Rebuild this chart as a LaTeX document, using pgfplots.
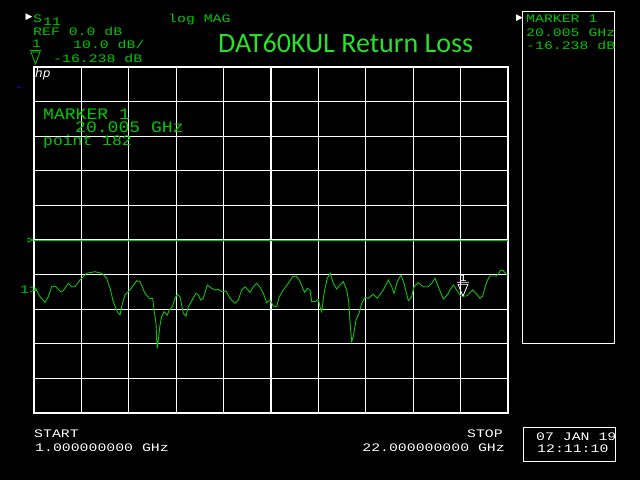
\documentclass[border=0pt]{standalone}
\usepackage{fontspec}
\usepackage{pgfplots}
\pgfplotsset{compat=1.18}
\setmainfont{Liberation Sans}
\newfontfamily\hpfont[FakeStretch=1.29]{Liberation Mono}
\newfontfamily\hpbig[FakeStretch=1.13]{Liberation Mono}
\newfontfamily\titlefont{Carlito}
\newfontfamily\symfont{DejaVu Sans}
\definecolor{hpgreen}{RGB}{0,200,0}
\definecolor{trace}{RGB}{15,195,15}
\definecolor{titlegreen}{RGB}{40,225,40}
\pgfdeclareplotmark{hpmark}{%
 \pgfpathmoveto{\pgfpoint{0pt}{0pt}}%
 \pgfpathlineto{\pgfpoint{-5pt}{12pt}}%
 \pgfpathlineto{\pgfpoint{5pt}{12pt}}%
 \pgfpathclose
 \pgfpathmoveto{\pgfpoint{-6pt}{14pt}}%
 \pgfpathlineto{\pgfpoint{6pt}{14pt}}%
 \pgfusepathqstroke}
\tikzset{hp/.style={anchor=base west, inner sep=0pt, font=\hpfont\fontsize{11.5}{11.5}\selectfont}}
\begin{document}
\begin{tikzpicture}[x=1pt,y=1pt]
\fill[black] (0,0) rectangle (640,480);
\useasboundingbox (0,0) rectangle (640,480);
\begin{axis}[at={(34pt,67pt)}, anchor=south west, scale only axis,
  width=474pt, height=346pt,
  xmin=1, xmax=22, ymin=-50, ymax=50,
  xtick={1,3.1,5.2,7.3,9.4,11.5,13.6,15.7,17.8,19.9,22},
  ytick={-50,-40,-30,-20,-10,0,10,20,30,40,50},
  xticklabels={}, yticklabels={},
  grid=major, major grid style={white, line width=1.1pt},
  axis line style={white, line width=1.1pt},
  major tick length=0pt]
\addplot[hpgreen, line width=1pt] coordinates {(1,0) (22,0)};
\addplot[trace, line width=0.9pt, mark=none] coordinates {
(1.000,-14.45) (1.120,-14.65) (1.266,-16.39) (1.487,-18.01) (1.634,-16.39)
(1.784,-13.50) (1.930,-13.29) (2.183,-14.94) (2.298,-14.65) (2.520,-12.51)
(2.670,-13.50) (2.816,-13.50) (3.038,-11.56) (3.184,-10.61) (3.335,-9.62)
(3.703,-9.16) (4.000,-9.62) (4.221,-11.07) (4.367,-13.96) (4.513,-17.83)
(4.690,-20.72) (4.810,-21.68) (4.899,-18.79) (5.032,-15.90) (5.253,-14.45)
(5.550,-11.76) (5.696,-12.05) (5.918,-15.40) (6.108,-16.85) (6.259,-16.85)
(6.330,-20.72) (6.405,-24.07) (6.436,-28.90) (6.463,-31.30) (6.525,-27.95)
(6.582,-24.57) (6.658,-22.17) (6.760,-20.72) (6.906,-21.68) (6.994,-20.23)
(7.127,-19.28) (7.247,-16.85) (7.349,-15.69) (7.468,-16.39) (7.544,-18.79)
(7.615,-21.18) (7.734,-21.97) (7.836,-19.28) (7.987,-17.54) (8.177,-15.40)
(8.279,-15.90) (8.385,-17.34) (8.501,-16.85) (8.678,-13.01) (8.873,-13.96)
(9.019,-14.45) (9.165,-14.25) (9.316,-14.94) (9.506,-14.74) (9.684,-16.85)
(9.905,-18.29) (10.051,-17.34) (10.202,-14.45) (10.348,-13.50) (10.570,-15.12)
(10.716,-13.50) (10.867,-12.51) (11.013,-13.67) (11.159,-15.40) (11.310,-18.12)
(11.456,-17.34) (11.602,-19.07) (11.753,-19.28) (11.868,-16.39) (12.045,-14.45)
(12.266,-12.51) (12.461,-10.61) (12.608,-10.40) (12.754,-11.56) (12.905,-13.96)
(12.993,-15.12) (13.108,-13.96) (13.228,-14.45) (13.303,-17.83) (13.449,-17.83)
(13.596,-17.14) (13.671,-19.28) (13.746,-20.72) (13.862,-14.94) (13.994,-11.07)
(14.127,-9.62) (14.260,-12.51) (14.411,-14.16) (14.557,-13.01) (14.703,-12.05)
(14.854,-14.45) (14.943,-17.83) (15.000,-23.61) (15.075,-29.39) (15.146,-27.95)
(15.266,-23.12) (15.399,-21.18) (15.518,-18.29) (15.665,-16.56) (15.811,-16.85)
(16.032,-15.69) (16.210,-16.85) (16.475,-14.45) (16.697,-11.56) (16.848,-13.50)
(16.950,-15.40) (17.095,-12.05) (17.259,-10.12) (17.392,-12.51) (17.583,-17.54)
(17.733,-16.39) (17.835,-13.50) (18.026,-12.34) (18.248,-13.50) (18.469,-13.50)
(18.620,-12.51) (18.766,-11.07) (18.912,-13.50) (19.134,-17.05) (19.311,-15.90)
(19.430,-14.45) (19.577,-13.01) (19.727,-14.45) (19.904,-16.18) (20.170,-16.18)
(20.436,-14.45) (20.582,-15.40) (20.760,-16.85) (20.879,-16.18) (21.056,-12.05)
(21.203,-10.40) (21.499,-10.40) (21.690,-8.67) (21.792,-8.87) (21.943,-10.12)
(22.000,-10.12)};
\addplot[white, line width=0.8pt, only marks, mark=hpmark,
  nodes near coords={\hpfont 1},
  every node near coord/.append style={white, anchor=south, inner sep=0pt, yshift=14pt}]
  coordinates {(20.005,-16.238)};
\end{axis}
% header texts
\node[white, anchor=center, inner sep=0pt, font=\symfont\fontsize{9}{9}\selectfont] at (29,462.5) {▶};
\node[hpgreen, hp] at (33,457) {S};
\node[hpgreen, hp] at (43,454) {11};
\node[hpgreen, hp] at (168,457) {log MAG};
\node[hpgreen, hp] at (33,444) {REF 0.0 dB};
\node[hpgreen, hp] at (32,432) {1};
\node[hpgreen, hp] at (73,431) {10.0 dB/};
\draw[hpgreen, line width=0.8pt] (30,430) -- (41,430);
\draw[hpgreen, line width=0.8pt] (31,428) -- (40,428) -- (35.5,416) -- cycle;
\node[hpgreen, hp] at (53,417) {-16.238 dB};
\node[titlegreen, anchor=base west, inner sep=0pt, font=\titlefont\fontsize{28}{28}\selectfont] at (218,427) {DAT60KUL Return Loss};
% right box
\draw[white, line width=1pt] (522,468) rectangle (614,137);
\node[white, anchor=center, inner sep=0pt, font=\symfont\fontsize{9}{9}\selectfont] at (519.5,462) {▶};
\node[hpgreen, hp] at (526,457) {MARKER 1};
\node[hpgreen, hp] at (526,443) {20.005 GHz};
\node[hpgreen, hp] at (526,430) {-16.238 dB};
% inside plot
\node[white, anchor=base west, inner sep=0pt, font=\symfont\itshape\fontsize{12}{12}\selectfont] at (35,402) {hp};
\node[hpgreen, anchor=base west, inner sep=0pt, font=\hpbig\fontsize{16}{16}\selectfont] at (43,360) {MARKER 1};
\node[hpgreen, anchor=base west, inner sep=0pt, font=\hpbig\fontsize{16}{16}\selectfont] at (75,347) {20.005 GHz};
\node[hpgreen, anchor=base west, inner sep=0pt, font=\hpbig\fontsize{14.5}{14.5}\selectfont] at (43,334) {point  182};
% left indicators
\node[hpgreen, hp] at (20,186) {1>};
\draw[hpgreen, line width=0.8pt] (33,240) -- (28,242) -- (28,238) -- cycle;
\draw[blue, line width=1pt] (17,392) -- (21,392);
% bottom
\node[white, hp] at (34,43) {START};
\node[white, hp] at (35,29) {1.000000000 GHz};
\node[white, hp, anchor=base east] at (503,43) {STOP};
\node[white, hp, anchor=base east] at (505,29) {22.000000000 GHz};
\draw[white, line width=1pt] (523,53) rectangle (615,19);
\begin{scope}
\clip (523,19) rectangle (614.5,53);
\node[white, hp] at (536,40) {07 JAN 19};
\end{scope}
\node[white, hp] at (537,28) {12:11:10};
\end{tikzpicture}
\end{document}
